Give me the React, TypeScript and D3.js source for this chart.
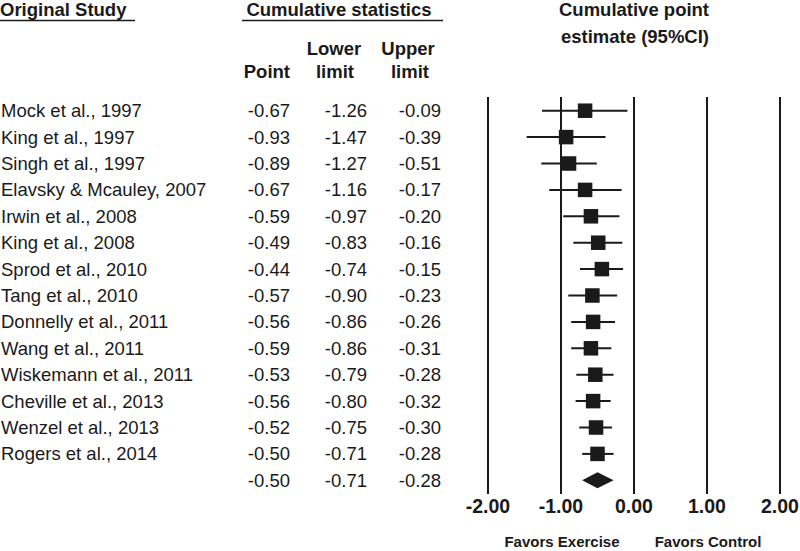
import React from "react";
import * as d3 from "d3";

const studies = [
  "Mock et al., 1997",
  "King et al., 1997",
  "Singh et al., 1997",
  "Elavsky & Mcauley, 2007",
  "Irwin et al., 2008",
  "King et al., 2008",
  "Sprod et al., 2010",
  "Tang et al., 2010",
  "Donnelly et al., 2011",
  "Wang et al., 2011",
  "Wiskemann et al., 2011",
  "Cheville et al., 2013",
  "Wenzel et al., 2013",
  "Rogers et al., 2014",
];
const points = [-0.67, -0.93, -0.89, -0.67, -0.59, -0.49, -0.44, -0.57, -0.56, -0.59, -0.53, -0.56, -0.52, -0.50];
const lowers = [-1.26, -1.47, -1.27, -1.16, -0.97, -0.83, -0.74, -0.90, -0.86, -0.86, -0.79, -0.80, -0.75, -0.71];
const uppers = [-0.09, -0.39, -0.51, -0.17, -0.20, -0.16, -0.15, -0.23, -0.26, -0.31, -0.28, -0.32, -0.30, -0.28];
const summary = { point: -0.50, lower: -0.71, upper: -0.28 };
const xTicks = [-2, -1, 0, 1, 2];

const FONT = "Arial, 'Liberation Sans', Helvetica, sans-serif";

export default function App() {
  const W = 800, H = 551;
  const x = d3.scaleLinear().domain([-2, 2]).range([488, 780]);
  const nRows = studies.length + 1;
  const y = d3.scaleLinear().domain([0, nRows - 1]).range([110.7, 110.7 + 26.4 * (nRows - 1)]);
  const fmt = (v: number) => v.toFixed(2);
  const sq = 14.5;
  const colPoint = 290, colLower = 367, colUpper = 441;
  const rowFont = 18.5;
  const ink = "#1a1a1a";

  const diamond = (yc: number) => {
    const p = d3.path();
    p.moveTo(x(summary.lower), yc);
    p.lineTo(x(summary.point), yc - 8);
    p.lineTo(x(summary.upper), yc);
    p.lineTo(x(summary.point), yc + 8);
    p.closePath();
    return p.toString();
  };

  return (
    <svg width={W} height={H} style={{ position: "absolute", left: 0, top: 0, background: "#fff" }} fontFamily={FONT}>
      <rect x={0} y={0} width={W} height={H} fill="#fff" />
      {/* Headers */}
      <g fill={ink} fontWeight="bold" fontSize={18.5}>
        <text x={0} y={16}>Original Study</text>
        <line x1={0} x2={135} y1={20.5} y2={20.5} stroke={ink} strokeWidth={1.3} />
        <text x={339} y={16} textAnchor="middle">Cumulative statistics</text>
        <line x1={242} x2={443} y1={20.5} y2={20.5} stroke={ink} strokeWidth={1.3} />
        <text x={colPoint} y={78} textAnchor="end">Point</text>
        <text x={334} y={55} textAnchor="middle">Lower</text>
        <text x={335} y={78} textAnchor="middle">limit</text>
        <text x={408} y={55} textAnchor="middle">Upper</text>
        <text x={410} y={78} textAnchor="middle">limit</text>
        <text x={634} y={16} textAnchor="middle">Cumulative point</text>
        <text x={635} y={43} textAnchor="middle">estimate (95%CI)</text>
      </g>
      {/* Gridlines */}
      {xTicks.map((t) => (
        <line key={t} x1={x(t)} x2={x(t)} y1={97} y2={494} stroke={ink} strokeWidth={2} />
      ))}
      {/* Rows */}
      {studies.map((s, i) => {
        const yc = y(i);
        return (
          <g key={s}>
            <text x={1} y={yc + 6.5} fontSize={rowFont} fill={ink}>{s}</text>
            <text x={colPoint} y={yc + 6.5} fontSize={rowFont} fill={ink} textAnchor="end">{fmt(points[i])}</text>
            <text x={colLower} y={yc + 6.5} fontSize={rowFont} fill={ink} textAnchor="end">{fmt(lowers[i])}</text>
            <text x={colUpper} y={yc + 6.5} fontSize={rowFont} fill={ink} textAnchor="end">{fmt(uppers[i])}</text>
            <line x1={x(lowers[i])} x2={x(uppers[i])} y1={yc} y2={yc} stroke={ink} strokeWidth={2} />
            <rect x={x(points[i]) - sq / 2} y={yc - sq / 2} width={sq} height={sq} fill={ink} />
          </g>
        );
      })}
      {/* Summary */}
      <g>
        <text x={colPoint} y={y(studies.length) + 6.5} fontSize={rowFont} fill={ink} textAnchor="end">{fmt(summary.point)}</text>
        <text x={colLower} y={y(studies.length) + 6.5} fontSize={rowFont} fill={ink} textAnchor="end">{fmt(summary.lower)}</text>
        <text x={colUpper} y={y(studies.length) + 6.5} fontSize={rowFont} fill={ink} textAnchor="end">{fmt(summary.upper)}</text>
        <path d={diamond(y(studies.length))} fill={ink} />
      </g>
      {/* Axis labels */}
      {xTicks.map((t) => (
        <text key={t} x={x(t)} y={513} textAnchor="middle" fontWeight="bold" fontSize={19.5} fill={ink}>{fmt(t)}</text>
      ))}
      <text x={562} y={547} textAnchor="middle" fontWeight="bold" fontSize={15} fill={ink}>Favors Exercise</text>
      <text x={708} y={547} textAnchor="middle" fontWeight="bold" fontSize={15} fill={ink}>Favors Control</text>
    </svg>
  );
}
